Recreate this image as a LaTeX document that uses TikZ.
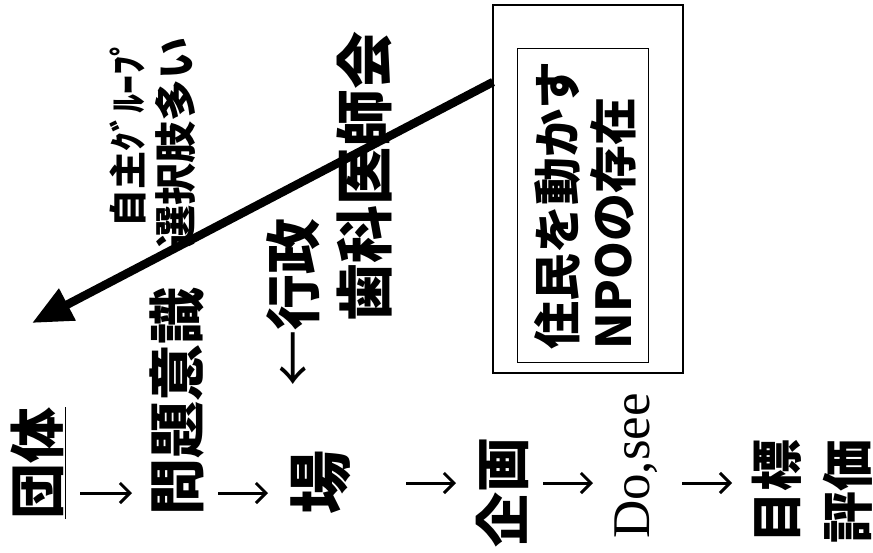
\documentclass[tikz,border=0pt]{standalone}
\usepackage{fontspec}
\usetikzlibrary{arrows.meta}
\newfontfamily\jp{Noto Sans CJK JP}
\newfontfamily\serifjp{Liberation Serif}
\newcommand\jfs[1]{\jp\bfseries\fontsize{#1}{#1}\selectfont}
\begin{document}
\begin{tikzpicture}[x=1pt,y=-1pt,
  jt/.style={rotate=90, inner sep=0pt, anchor=center},
  arr/.style={line width=3pt, -{Straight Barb[length=10pt,width=20pt]}},
  big/.style={line width=8.5pt, -{Triangle[length=40pt,width=34pt]}},
  frame/.style={draw, line width=1.5pt, inner sep=0pt}]
\path[use as bounding box, fill=white] (0,0) rectangle (873,552);
% main row
\node[jt, font=\jfs{56}] (dantai) at (38,463) {\underline{団体}};
\node[jt, font=\jfs{57}] (mondai) at (177,401) {問題意識};
\node[jt, font=\jfs{64}] (ba) at (321,482) {場};
\node[jt, font=\jfs{55}] (kikaku) at (502,492) {企画};
\node[jt, font=\serifjp\fontsize{53}{53}\selectfont] (dosee) at (636,466) {Do,see};
\node[jt, font=\jfs{52}, align=center] (mokuhyo) at (812,491) {目標\\[19pt]評価};
% upper texts
\node[jt, font=\jfs{56}] (gyosei) at (293,302) {{\mdseries ←}行政};
\node[jt, font=\jfs{58}] (shika) at (364,176) {歯科医師会};
\node[jt, font=\jfs{38}] (jishu) at (128,132) {自主ｸﾞﾙｰﾌﾟ};
\node[jt, font=\jfs{42}] (sentaku) at (176,142) {選択肢多い};
% box
\node[frame, minimum width=190pt, minimum height=368pt] (outer) at (588,189) {};
\node[draw, line width=1pt, inner sep=0pt, minimum width=131pt, minimum height=314pt] (inner) at (582.5,205) {};
\node[jt, font=\jfs{48}, align=left] (npo) at (585,205) {住民を動かす\\[8pt]NPOの存在};
% arrows
\coordinate (a1s) at (80,493);  \coordinate (a1e) at (132,493);
\coordinate (a2s) at (218,493); \coordinate (a2e) at (268,493);
\coordinate (a3s) at (406,483); \coordinate (a3e) at (456,483);
\coordinate (a4s) at (543,483); \coordinate (a4e) at (593,483);
\coordinate (a5s) at (682,483); \coordinate (a5e) at (732,483);
\draw[arr] (a1s) -- (a1e);
\draw[arr] (a2s) -- (a2e);
\draw[arr] (a3s) -- (a3e);
\draw[arr] (a4s) -- (a4e);
\draw[arr] (a5s) -- (a5e);
\coordinate (bigs) at (493,82);
\coordinate (bigt) at (32,323);
\draw[big] (bigs) -- (bigt);
\end{tikzpicture}
\end{document}
